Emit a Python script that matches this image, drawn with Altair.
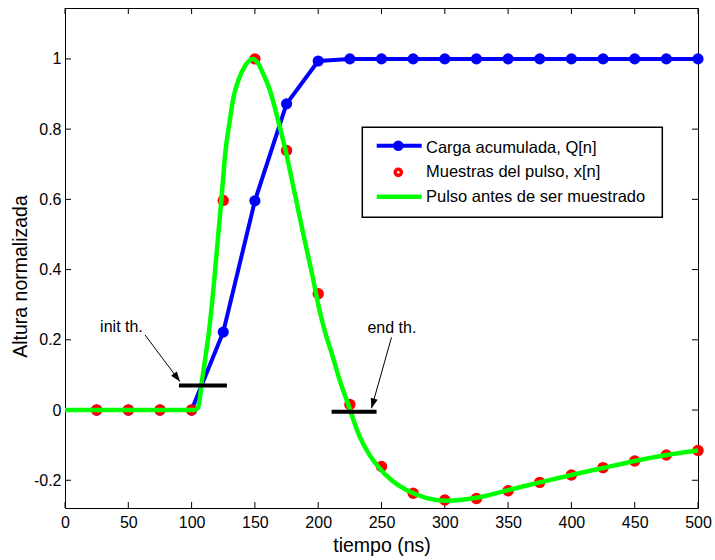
import altair as alt
import pandas as pd

# ---------------- data ----------------
sample_t = [25, 50, 75, 100, 125, 150, 175, 200, 225, 250,
            275, 300, 325, 350, 375, 400, 425, 450, 475, 500]
charge_q = [0, 0, 0, 0, 0.222, 0.596, 0.872, 0.994, 1.0, 1.0,
            1.0, 1.0, 1.0, 1.0, 1.0, 1.0, 1.0, 1.0, 1.0, 1.0]
pulse_samples = [0, 0, 0, 0, 0.597, 1.0, 0.739, 0.331, 0.016, -0.161,
                 -0.237, -0.256, -0.252, -0.230, -0.206, -0.185, -0.164, -0.145, -0.128, -0.115]

curve_t = [0, 102, 104.5, 106, 107.7, 110.5, 113.7, 116.4, 120, 123.5, 126.9, 130, 132.7,
           137, 141.9, 145.5, 148.5, 152, 156, 161.7, 168, 174.1, 181, 188, 195, 201,
           206, 210.4, 217, 223.6, 232.8, 240, 247.3, 258, 269.7, 285, 300, 312, 325,
           350, 375, 400, 425, 450, 475, 500]
curve_y = [0, 0, 0.004, 0.02, 0.071, 0.14, 0.223, 0.313, 0.456, 0.598, 0.741, 0.82, 0.883,
           0.94, 0.978, 0.995, 1.0, 0.99, 0.962, 0.912, 0.83, 0.741, 0.625, 0.505, 0.39, 0.285,
           0.215, 0.165, 0.085, 0.017, -0.076, -0.125, -0.161, -0.2, -0.228, -0.25, -0.258, -0.256, -0.25,
           -0.228, -0.206, -0.185, -0.165, -0.145, -0.128, -0.115]

x_tick_values = [0, 50, 100, 150, 200, 250, 300, 350, 400, 450, 500]
y_tick_values = [-0.2, 0, 0.2, 0.4, 0.6, 0.8, 1.0]

legend_labels = ["Carga acumulada, Q[n]", "Muestras del pulso, x[n]", "Pulso antes de ser muestrado"]

# threshold annotations (data units)
bar_start = [90.0, 210.6]
bar_end = [127.9, 246.1]
bar_level = [0.070, -0.005]
arrow_from_t = [63.2, 257.9]
arrow_from_y = [0.214, 0.207]
arrow_to_t = [90.8, 242.1]
arrow_to_y = [0.081, 0.005]
note_t = [44.6, 258.2]
note_y = [0.2236, 0.2185]
note_text = ["init th.", "end th."]

# ---------------- styling ----------------
W, H = 633, 500
FONT = "Liberation Sans"
BLUE, RED, GREEN = "#0000ff", "#ff0000", "#00ff00"

xs = alt.Scale(domain=[0, 500], nice=False, zero=False)
ys = alt.Scale(domain=[-0.279, 1.145], nice=False, zero=False)

x_axis = alt.Axis(values=x_tick_values, ticks=False, domain=False, grid=False,
                  labelFontSize=16, labelFont=FONT, labelColor="black", labelPadding=6,
                  labelFlush=False, labelOverlap=False,
                  title="tiempo (ns)", titleFont=FONT, titleFontSize=19.5, titleFontWeight="normal",
                  titleColor="black", titleY=43, titleBaseline="alphabetic")
y_axis = alt.Axis(values=y_tick_values, ticks=False, domain=False, grid=False,
                  labelFontSize=16, labelFont=FONT, labelColor="black", labelPadding=4,
                  labelFlush=False, labelOverlap=False,
                  labelExpr="datum.value < 0 ? '-' + format(-datum.value, '.1~f') : format(datum.value, '.1~f')",
                  title="Altura normalizada", titleFont=FONT, titleFontSize=19.5, titleFontWeight="normal",
                  titleColor="black", titleAngle=270, titleX=-39, titleY=268,
                  titleAlign="center", titleBaseline="alphabetic")


def X(f):
    return alt.X(f"{f}:Q", scale=xs, axis=x_axis)


def Y(f):
    return alt.Y(f"{f}:Q", scale=ys, axis=y_axis)


q_df = pd.DataFrame({"t": sample_t, "q": charge_q})
s_df = pd.DataFrame({"t": sample_t, "v": pulse_samples})
c_df = pd.DataFrame({"t": curve_t, "y": curve_y})
xt_df = pd.DataFrame({"t": x_tick_values})
yt_df = pd.DataFrame({"v": y_tick_values})
bar_df = pd.DataFrame({"t0": bar_start, "t1": bar_end, "lv": bar_level})
arr_df = pd.DataFrame({"t0": arrow_from_t, "y0": arrow_from_y, "t1": arrow_to_t, "y1": arrow_to_y})
note_df = pd.DataFrame({"t": note_t, "y": note_y, "label": note_text})
one = pd.DataFrame({"k": [0]})

TL = 6  # inner tick length
ticks = [
    alt.Chart(xt_df).mark_rule(color="black", strokeWidth=1).encode(x=X("t"), y=alt.value(H), y2=alt.value(H - TL)),
    alt.Chart(xt_df).mark_rule(color="black", strokeWidth=1).encode(x=X("t"), y=alt.value(0), y2=alt.value(TL)),
    alt.Chart(yt_df).mark_rule(color="black", strokeWidth=1).encode(y=Y("v"), x=alt.value(0), x2=alt.value(TL)),
    alt.Chart(yt_df).mark_rule(color="black", strokeWidth=1).encode(y=Y("v"), x=alt.value(W), x2=alt.value(W - TL)),
]

blue_line = alt.Chart(q_df).mark_line(color=BLUE, strokeWidth=4, strokeJoin="round").encode(x=X("t"), y=Y("q"))
blue_pts = alt.Chart(q_df).mark_point(filled=True, color=BLUE, size=125, opacity=1).encode(x=X("t"), y=Y("q"))
red_pts = alt.Chart(s_df).mark_point(filled=True, color=RED, size=130, opacity=1).encode(x=X("t"), y=Y("v"))
green_line = alt.Chart(c_df).mark_line(color=GREEN, strokeWidth=4.5, interpolate="monotone",
                                       strokeJoin="round").encode(x=X("t"), y=Y("y"))

bars = alt.Chart(bar_df).mark_rule(color="black", strokeWidth=4).encode(x=X("t0"), x2="t1", y=Y("lv"))
arrows = alt.Chart(arr_df).mark_rule(color="black", strokeWidth=1).encode(x=X("t0"), y=Y("y0"), x2="t1", y2="y1")
HEAD = "M0,0L-1,-0.36L-1,0.36Z"
head1 = alt.Chart(arr_df.iloc[[0]]).mark_point(shape=HEAD, filled=True, color="black", size=400,
                                               opacity=1, angle=53.1).encode(x=X("t1"), y=Y("y1"))
head2 = alt.Chart(arr_df.iloc[[1]]).mark_point(shape=HEAD, filled=True, color="black", size=400,
                                               opacity=1, angle=105.7).encode(x=X("t1"), y=Y("y1"))
notes = alt.Chart(note_df).mark_text(font=FONT, fontSize=16, color="black", align="center",
                                     baseline="alphabetic").encode(x=X("t"), y=Y("y"), text="label:N")

# ---------------- legend ----------------
LX0, LX1, LY0, LY1 = 297.3, 597.3, 119.3, 209.3
SX0, SX1, SXC, TX = 311.7, 356.7, 333.3, 361
ROWS = [137.7, 164.3, 188.7]
TEXT_BASE = [145.3, 169.3, 194.3]

legend = [
    alt.Chart(one).mark_rect(fill="white", stroke="black", strokeWidth=1.5).encode(
        x=alt.value(LX0), x2=alt.value(LX1), y=alt.value(LY0), y2=alt.value(LY1)),
    alt.Chart(one).mark_rule(color=BLUE, strokeWidth=4).encode(
        x=alt.value(SX0), x2=alt.value(SX1), y=alt.value(ROWS[0])),
    alt.Chart(one).mark_point(filled=True, color=BLUE, size=110, opacity=1).encode(
        x=alt.value(SXC), y=alt.value(ROWS[0])),
    alt.Chart(one).mark_point(filled=False, color=RED, size=38, strokeWidth=3.5, opacity=1).encode(
        x=alt.value(SXC), y=alt.value(ROWS[1])),
    alt.Chart(one).mark_rule(color=GREEN, strokeWidth=4.5).encode(
        x=alt.value(SX0), x2=alt.value(SX1), y=alt.value(ROWS[2])),
]
for lab, yb in zip(legend_labels, TEXT_BASE):
    legend.append(alt.Chart(one).mark_text(font=FONT, fontSize=16.5, color="black", align="left",
                                           baseline="alphabetic", text=lab).encode(
        x=alt.value(TX), y=alt.value(yb)))

chart = alt.layer(
    *ticks, blue_line, blue_pts, red_pts, green_line, bars, arrows, head1, head2, notes, *legend
).properties(
    width=W, height=H,
    autosize=alt.AutoSizeParams(type="none"),
    padding={"left": 65, "top": 8, "right": 17, "bottom": 52},
    background="white",
).configure_view(stroke="black", strokeWidth=1)

chart.save("out.html", embed_options={"renderer": "svg", "actions": False})
